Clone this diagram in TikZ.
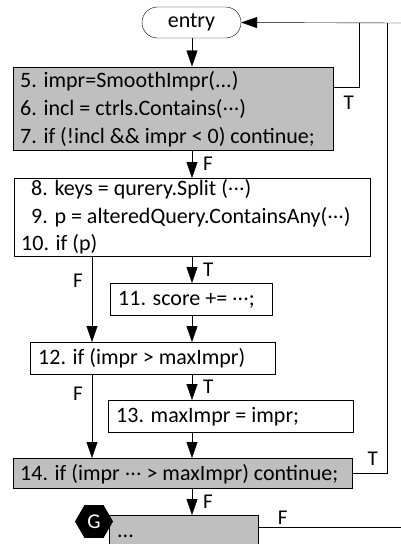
\documentclass[tikz,border=0pt]{standalone}
\usepackage{fontspec}
\setmainfont{Carlito}
\usetikzlibrary{arrows.meta}
\usetikzlibrary{shapes.misc}
\usetikzlibrary{shapes.geometric}
\usetikzlibrary{positioning}
\tikzset{> = {Triangle[length = 16pt, width = 11pt]}, x = 1pt, y = -1pt, line width = 0.9pt}
\tikzset{
  stmt/.style = {draw, rectangle, anchor = north west, inner sep = 0pt},
  hot/.style = {stmt, fill = gray!50},
  code/.style = {anchor = base west, inner sep = 0pt, font = \fontsize{22}{26}\selectfont},
  tf/.style = {inner sep = 0pt, font = \fontsize{21}{25}\selectfont}
}
\newcommand{\dotsmid}{\raisebox{0.22em}{...}}

\begin{document}
\begin{tikzpicture}
    \useasboundingbox (0,0) rectangle (401,544);
    \coordinate (spine) at (192,0);
    \coordinate (skip) at (92,0);
    \coordinate (back) at (401,23);
    \coordinate (out) at (401,527);
    \node [draw, rounded rectangle, minimum width = 99pt, minimum height = 31pt, inner sep = 0pt, font = \fontsize{22}{26}\selectfont] (entry) at (191.5,22.5) {entry};
    % statement boxes
    \node [hot, minimum width = 319.5pt, minimum height = 83.5pt] (b1) at (13,66.5) {};
    \node [stmt, minimum width = 356pt, minimum height = 78pt] (b2) at (14,178) {};
    \node [stmt, minimum width = 162pt, minimum height = 32pt] (b11) at (110,283) {};
    \node [stmt, minimum width = 245pt, minimum height = 32pt] (b12) at (30,342) {};
    \node [stmt, minimum width = 245pt, minimum height = 32pt] (b13) at (108,400) {};
    \node [hot, minimum width = 339pt, minimum height = 30pt] (b14) at (13,458) {};
    \node [hot, minimum width = 149pt, minimum height = 40pt] (bg) at (109,515) {};
    \node [regular polygon, regular polygon sides = 6, fill = black, minimum size = 38pt, inner sep = 0pt, text = white, font = \fontsize{21}{25}\selectfont] (g) at (94,521.5) {G};
    % statement texts
    \node [code] (l5) at (20,87) {5. impr=SmoothImpr(...)};
    \node [code] (l6) at (20,115) {6. incl = ctrls.Contains(\dotsmid)};
    \node [code] (l7) at (20,143) {7. if (!incl \&\& impr < 0) continue;};
    \node [code] (l8) at (31,195) {8. keys = qurery.Split (\dotsmid)};
    \node [code] (l9) at (31,223) {9. p = alteredQuery.ContainsAny(\dotsmid)};
    \node [code] (l10) at (21,250.5) {10. if (p)};
    \node [code] (l11) at (118,305) {11. score += \dotsmid;};
    \node [code] (l12) at (38,364) {12. if (impr > maxImpr)};
    \node [code] (l13) at (116,422) {13. maxImpr = impr;};
    \node [code] (l14) at (20,480) {14. if (impr \dotsmid{} > maxImpr) continue;};
    \node [code] (lg) at (117,537) {...};
    % paths
    \draw [->] (entry.south -| spine) -- (b1.north -| spine);
    \draw [->] (b1.south -| spine) -- node [tf, right = 11pt] {F} (b2.north -| spine);
    \draw [->] (b2.south -| spine) -- node [tf, right = 11pt] {T} (b11.north -| spine);
    \draw [->] (b2.south -| skip) -- node [tf, left = 9pt, pos = 0.29] {F} (b12.north -| skip);
    \draw [->] (b11.south -| spine) -- (b12.north -| spine);
    \draw [->] (b12.south -| spine) -- node [tf, right = 11pt] {T} (b13.north -| spine);
    \draw [->] (b12.south -| skip) -- node [tf, left = 9pt, pos = 0.23] {F} (b14.north -| skip);
    \draw [->] (b13.south -| spine) -- (b14.north -| spine);
    \draw [->] (b14.south -| spine) -- node [tf, right = 11pt] {F} (bg.north -| spine);
    % loop back
    \draw [->] (back) -- (entry.east);
    \draw ([yshift = 21pt] b1.east) -| node [tf, pos = 0.5, below left = 8pt and 5pt] {T} (359,23);
    \draw (b14.east) -| node [tf, pos = 0.5, above left = 8pt and 9pt] {T} (387,23);
    \draw (bg.east |- out) -- node [tf, above = 2pt, pos = 0.17] {F} (out);
  \end{tikzpicture}
\end{document}
